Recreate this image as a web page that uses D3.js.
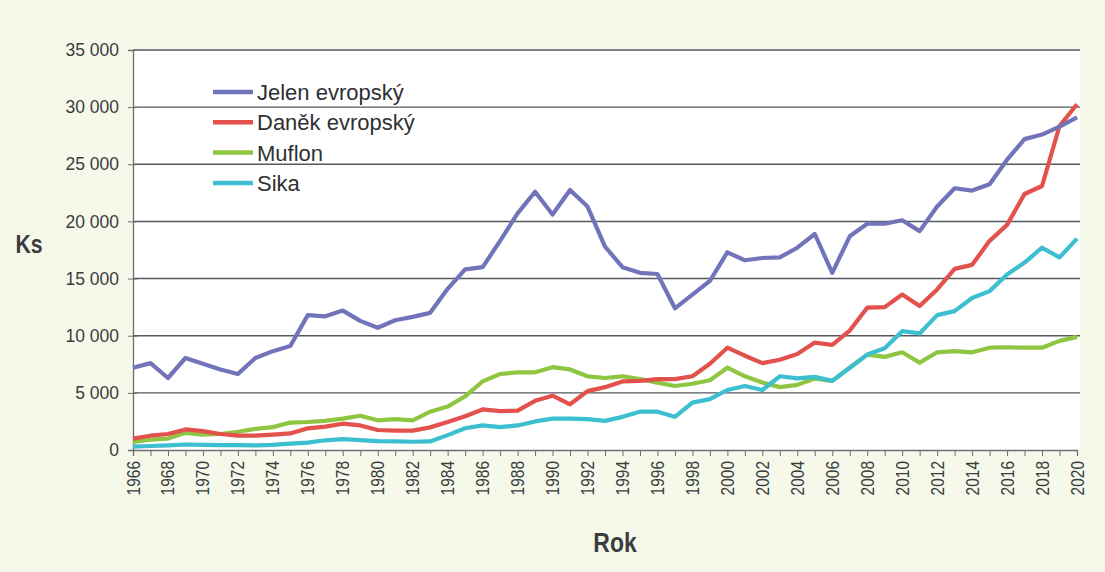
<!DOCTYPE html>
<html><head><meta charset="utf-8">
<script src="https://cdn.jsdelivr.net/npm/d3@7"></script>
<style>
html,body{margin:0;padding:0;background:#f6f9ea;}
svg{display:block;}
</style></head><body>
<svg id="c" width="1105" height="572"></svg>
<script>
const years = d3.range(1966, 2021);
const jelen = [7200,7600,6300,8050,7550,7050,6650,8050,8650,9100,11800,11700,12200,11300,10700,11350,11650,12000,14100,15800,16000,18300,20700,22600,20600,22750,21300,17800,16000,15500,15400,12400,13600,14800,17300,16600,16800,16850,17700,18900,15500,18700,19800,19800,20100,19150,21300,22900,22700,23250,25400,27200,27600,28300,29100];
const danek = [1000,1250,1400,1800,1650,1400,1250,1250,1350,1450,1900,2050,2300,2150,1750,1700,1700,1980,2450,2950,3550,3400,3450,4300,4750,4000,5150,5500,6000,6050,6200,6200,6450,7550,8950,8250,7600,7900,8400,9400,9200,10450,12450,12500,13600,12600,14050,15850,16200,18300,19700,22400,23100,28350,30250];
const muflon = [700,900,1000,1500,1350,1400,1600,1850,2000,2400,2450,2550,2750,3000,2600,2700,2600,3350,3800,4700,6000,6650,6800,6800,7250,7050,6450,6300,6450,6200,5900,5600,5800,6100,7200,6450,5900,5500,5700,6250,6050,7200,8350,8150,8550,7650,8550,8650,8550,8950,8990,8950,8950,9550,9900];
const sika = [300,350,400,480,450,420,420,400,450,550,650,850,950,870,780,750,720,750,1300,1900,2150,2000,2150,2500,2750,2750,2700,2550,2900,3350,3350,2900,4150,4450,5250,5600,5250,6450,6270,6400,6050,7200,8350,8900,10400,10200,11800,12150,13300,13900,15350,16400,17700,16850,18500];
const seriesNames = ["Jelen evropský","Daněk evropský","Muflon","Sika"];
const seriesColors = ["#7274b9","#e2514b","#8ec641","#3cbfd0"];
const yTicks = [0,5000,10000,15000,20000,25000,30000,35000];
const xTickYears = d3.range(1966, 2021, 2);

const svg = d3.select("#c");
const L = 133, R = 1077, T = 50, B = 450;
const x = d3.scaleLinear().domain([1966, 2020]).range([L, R]);
const y = d3.scaleLinear().domain([0, 35000]).range([B, T]);

svg.append("rect").attr("x", L).attr("y", T).attr("width", R - L + 3).attr("height", B - T).attr("fill", "#ffffff");

// gridlines
svg.append("g").selectAll("line").data(yTicks.filter(d => d > 0)).join("line")
  .attr("x1", L).attr("x2", R + 3).attr("y1", d => y(d)).attr("y2", d => y(d))
  .attr("stroke", "#55585c").attr("stroke-width", 1.4);

// y axis
const yAxis = svg.append("g").attr("transform", `translate(${L},0)`)
  .call(d3.axisLeft(y).tickValues(yTicks).tickSize(5).tickPadding(9).tickFormat(d => d === 0 ? "0" : d3.format(",")(d).replace(",", " ")));
yAxis.select(".domain").attr("stroke", "#6b6e72").attr("stroke-width", 1.3);
yAxis.selectAll(".tick line").attr("stroke", "#6b6e72").attr("x2", 4).attr("x1", -5);
yAxis.selectAll("text").attr("font-family", "'Liberation Sans',Arial,sans-serif")
  .attr("font-size", 17.5).attr("fill", "#3a3d40");

// x axis
const xAxis = svg.append("g").attr("transform", `translate(0,${B})`)
  .call(d3.axisBottom(x).tickValues(years).tickSize(6).tickFormat(""));
xAxis.select(".domain").attr("stroke", "#6b6e72").attr("stroke-width", 1.3);
xAxis.selectAll(".tick line").attr("stroke", "#6b6e72");
const xl = svg.append("g");
xl.selectAll("text").data(xTickYears).join("text")
  .attr("transform", d => `translate(${x(d) + 6.5},${B + 11}) rotate(-90) scale(0.86,1)`)
  .attr("text-anchor", "end")
  .attr("font-family", "'Liberation Sans',Arial,sans-serif")
  .attr("font-size", 18).attr("fill", "#3a3d40")
  .text(d => d);

// lines
const all = [jelen, danek, muflon, sika];
const line = d3.line().x((d, i) => x(years[i])).y(d => y(d));
[2, 3, 1, 0].forEach(k => {
  svg.append("path").datum(all[k]).attr("d", line).attr("fill", "none")
    .attr("stroke", seriesColors[k]).attr("stroke-width", 4.2).attr("stroke-linejoin", "round");
});

// legend
const lg = svg.append("g");
seriesNames.forEach((n, i) => {
  const ly = 92 + i * 30.3;
  lg.append("line").attr("x1", 213).attr("x2", 253).attr("y1", ly).attr("y2", ly)
    .attr("stroke", seriesColors[i]).attr("stroke-width", 4.5);
  lg.append("text").attr("x", 257).attr("y", ly + 8).text(n)
    .attr("font-family", "'Liberation Sans',Arial,sans-serif").attr("font-size", 22).attr("fill", "#2e3033");
});

// axis titles
svg.append("text").attr("transform", "translate(29,253) scale(0.85,1)").text("Ks").attr("text-anchor", "middle")
  .attr("font-family", "'Liberation Sans',Arial,sans-serif").attr("font-weight", "bold")
  .attr("font-size", 25).attr("fill", "#3a3d40");
svg.append("text").attr("transform", "translate(615,552) scale(0.85,1)").text("Rok").attr("text-anchor", "middle")
  .attr("font-family", "'Liberation Sans',Arial,sans-serif").attr("font-weight", "bold")
  .attr("font-size", 27).attr("fill", "#3a3d40");
</script></body></html>
